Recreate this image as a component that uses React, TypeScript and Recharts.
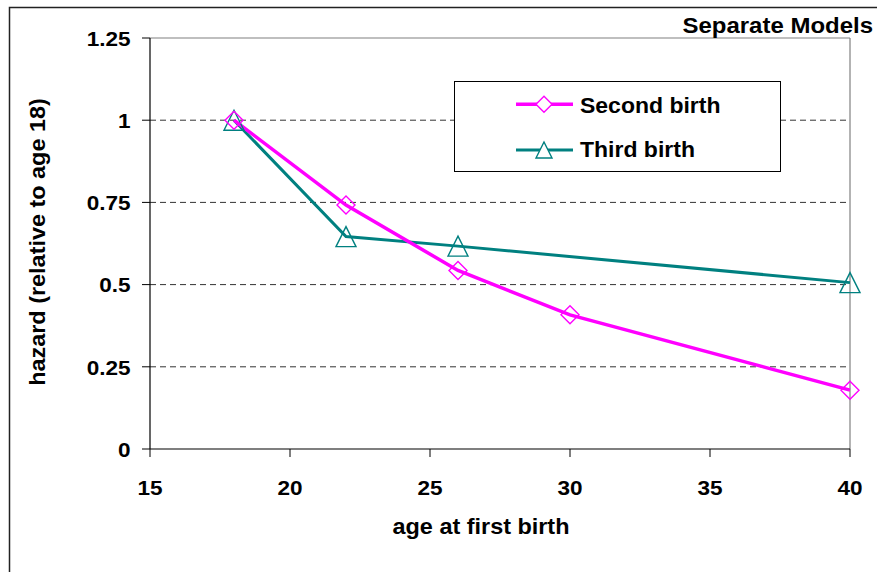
import React from 'react';
import { LineChart, Line, XAxis, YAxis, ReferenceLine, Legend, Label } from 'recharts';

// ---- data ----
const secondAges = [18, 22, 26, 30, 40];
const secondHazard = [1.0, 0.742, 0.543, 0.408, 0.179];
const thirdAges = [18, 22, 26, 40];
const thirdHazard = [1.0, 0.646, 0.617, 0.506];
const xTicks = [15, 20, 25, 30, 35, 40];
const yTicks = [0, 0.25, 0.5, 0.75, 1, 1.25];
const gridValues = [0.25, 0.5, 0.75, 1];
const seriesNames = ['Second birth', 'Third birth'];
const titleText = 'Separate Models';
const xTitle = 'age at first birth';
const yTitle = 'hazard (relative to age 18)';

const secondData = secondAges.map((x, i) => ({ x, y: secondHazard[i] }));
const thirdData = thirdAges.map((x, i) => ({ x, y: thirdHazard[i] }));

const FONT = '"Liberation Sans", Arial, Helvetica, sans-serif';
const MAGENTA = '#FF00FF';
const TEAL = '#008080';
const W = 877;
const H = 572;

const diamondPath = (cx: number, cy: number, r: number) =>
  `M${cx},${cy - r}L${cx + r},${cy}L${cx},${cy + r}L${cx - r},${cy}Z`;
const trianglePath = (cx: number, cy: number, r: number) =>
  `M${cx},${cy - r}L${cx + r},${cy + r}L${cx - r},${cy + r}Z`;

const DiamondDot = (props: any) => {
  const { cx, cy, index } = props;
  if (cx == null || cy == null) return <g key={`d-${index}`} />;
  return (
    <path key={`d-${index}`} d={diamondPath(cx, cy, 9)} fill="none" stroke={MAGENTA} strokeWidth={1.4} />
  );
};

const TriangleDot = (props: any) => {
  const { cx, cy, index } = props;
  if (cx == null || cy == null) return <g key={`t-${index}`} />;
  return (
    <path key={`t-${index}`} d={trianglePath(cx, cy, 10)} fill="none" stroke={TEAL} strokeWidth={1.4} />
  );
};

const StretchText = ({ x, y, sx, size, anchor, rotate, children }: any) => (
  <text
    transform={`translate(${x},${y})${rotate ? ` rotate(${rotate})` : ''} scale(${sx},1)`}
    x={0}
    y={0}
    textAnchor={anchor}
    fontSize={size}
    fontWeight="bold"
    fontFamily={FONT}
    fill="#000"
  >
    {children}
  </text>
);

const XTick = (props: any) => {
  const { x, y, payload } = props;
  return (
    <StretchText x={x} y={y + 37.8} sx={1.1} size={20.5} anchor="middle">
      {payload.value}
    </StretchText>
  );
};

const YTick = (props: any) => {
  const { x, y, payload } = props;
  return (
    <StretchText x={x - 11.5} y={y + 7.8} sx={1.1} size={20.5} anchor="end">
      {payload.value}
    </StretchText>
  );
};

const XTitle = () => (
  <StretchText x={481} y={534} sx={1.09} size={21.5} anchor="middle">
    {xTitle}
  </StretchText>
);

const YTitle = () => (
  <StretchText x={45} y={242} sx={1.09} size={21.5} anchor="middle" rotate={-90}>
    {yTitle}
  </StretchText>
);

const LegendBox = () => (
  <svg width={327} height={91} style={{ display: 'block' }}>
    <rect x={0.5} y={0.5} width={326} height={90} fill="#fff" stroke="#000" strokeWidth={1} />
    <line x1={62} y1={23.3} x2={119} y2={23.3} stroke={MAGENTA} strokeWidth={3.5} />
    <path d={diamondPath(90, 23.3, 8)} fill="#fff" stroke={MAGENTA} strokeWidth={1.4} />
    <StretchText x={126} y={32} sx={1.07} size={21.5} anchor="start">
      {seriesNames[0]}
    </StretchText>
    <line x1={62} y1={69} x2={119} y2={69} stroke={TEAL} strokeWidth={3} />
    <path d={trianglePath(90, 69, 8)} fill="#fff" stroke={TEAL} strokeWidth={1.4} />
    <StretchText x={126} y={76.3} sx={1.07} size={21.5} anchor="start">
      {seriesNames[1]}
    </StretchText>
  </svg>
);

export default function App() {
  return (
    <div
      style={{
        position: 'absolute',
        left: 0,
        top: 0,
        width: W,
        height: H,
        overflow: 'hidden',
        background: '#fff',
      }}
    >
      <LineChart width={W} height={H} margin={{ top: 38, right: 27, bottom: 0, left: 0 }}>
        <XAxis
          dataKey="x"
          type="number"
          domain={[15, 40]}
          ticks={xTicks}
          allowDuplicatedCategory={false}
          height={123}
          tickSize={8}
          tickMargin={0}
          tick={<XTick />}
          axisLine={{ stroke: '#000', strokeWidth: 1.2 }}
          tickLine={{ stroke: '#000', strokeWidth: 1 }}
          interval={0}
        >
          <Label content={<XTitle />} />
        </XAxis>
        <YAxis
          type="number"
          domain={[0, 1.25]}
          ticks={yTicks}
          width={150}
          tickSize={8}
          tickMargin={0}
          tick={<YTick />}
          axisLine={{ stroke: '#000', strokeWidth: 1.2 }}
          tickLine={{ stroke: '#000', strokeWidth: 1 }}
          interval={0}
        >
          <Label content={<YTitle />} />
        </YAxis>
        {gridValues.map((v) => (
          <ReferenceLine key={`g-${v}`} y={v} stroke="#333" strokeWidth={1} strokeDasharray="6 4" />
        ))}
        <ReferenceLine y={1.25} stroke="#808080" strokeWidth={1.2} />
        <ReferenceLine x={40} stroke="#808080" strokeWidth={1.2} />
        <Legend
          verticalAlign="middle"
          align="center"
          layout="horizontal"
          content={<LegendBox />}
          wrapperStyle={{ position: 'absolute', left: 454, top: 81, width: 327, height: 91, margin: 0, padding: 0 }}
        />
        <Line
          data={thirdData}
          dataKey="y"
          name={seriesNames[1]}
          type="linear"
          stroke={TEAL}
          strokeWidth={3}
          dot={TriangleDot}
          activeDot={false}
          isAnimationActive={false}
        />
        <Line
          data={secondData}
          dataKey="y"
          name={seriesNames[0]}
          type="linear"
          stroke={MAGENTA}
          strokeWidth={3.5}
          dot={DiamondDot}
          activeDot={false}
          isAnimationActive={false}
        />
      </LineChart>
      <svg
        width={W}
        height={H}
        style={{ position: 'absolute', left: 0, top: 0, pointerEvents: 'none' }}
      >
        <path d={`M9.5,${H} L9.5,7.5 L${W},7.5`} fill="none" stroke="#222" strokeWidth={1.5} />
        <StretchText x={873} y={32.7} sx={1.09} size={22} anchor="end">
          {titleText}
        </StretchText>
      </svg>
    </div>
  );
}
